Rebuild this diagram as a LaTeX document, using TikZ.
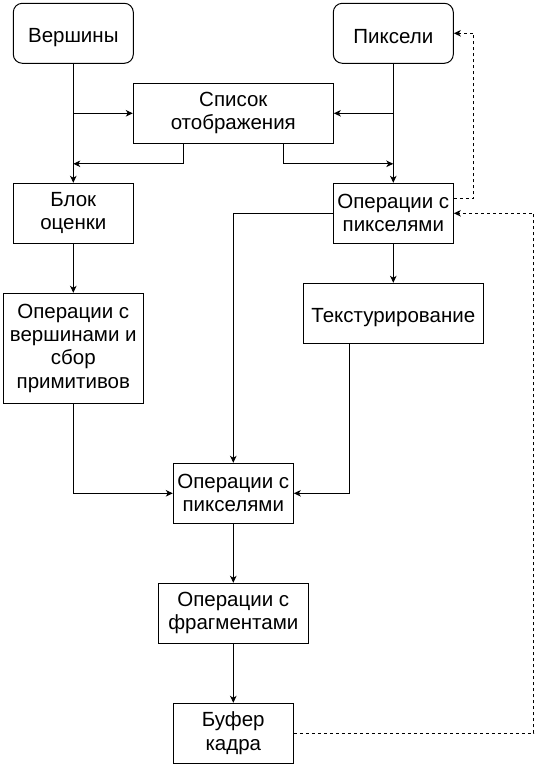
\documentclass[tikz,border=0pt]{standalone}
\usepackage{fontspec}
\setmainfont{Liberation Sans}
\usepackage{tikz}
\usetikzlibrary{arrows.meta}
\usetikzlibrary{calc}
\newcommand\st{\rule[-1.5pt]{0pt}{23.3pt}}
\tikzset{
  >={Stealth[length=7pt,width=6.5pt,inset=2pt]},
  blk/.style={draw=black, line width=1pt, inner sep=0pt, align=center,
    font=\fontsize{20.5}{23.3}\selectfont,
    execute at begin node=\st, execute at end node=\st},
  rblk/.style={blk, rounded corners=9pt},
  conn/.style={line width=1pt, ->},
  fb/.style={conn, dash pattern=on 3pt off 3pt}
}

\begin{document}
\begin{tikzpicture}[x=1pt,y=-1pt]
\useasboundingbox (0,0) rectangle (545,767);

\node[rblk, minimum width=120pt, minimum height=60pt] (vert) at (73.3,33.3) {Вершины};
\node[rblk, minimum width=120pt, minimum height=60pt] (piks) at (393.3,33.3) {Пиксели};
\node[blk, minimum width=200pt, minimum height=60pt] (spis) at (233.3,113.3) {Список\\отображения};
\node[blk, minimum width=120pt, minimum height=60pt] (blok) at (73.3,213.3) {Блок\\оценки};
\node[blk, minimum width=120pt, minimum height=60pt] (optop) at (393.3,213.3) {Операции с\\пикселями};
\node[blk, minimum width=140pt, minimum height=110pt] (opver) at (73.3,348.3) {Операции с\\вершинами и\\сбор\\примитивов};
\node[blk, minimum width=180pt, minimum height=60pt] (tex) at (393.3,313.3) {Текстурирование};
\node[blk, minimum width=120pt, minimum height=60pt] (opmid) at (233.3,493.3) {Операции с\\пикселями};
\node[blk, minimum width=150pt, minimum height=60pt] (frag) at (233.3,613.3) {Операции с\\фрагментами};
\node[blk, minimum width=120pt, minimum height=60pt] (buf) at (233.3,733.3) {Буфер\\кадра};

% left column
\draw[conn] (vert) -- (blok);
\draw[conn] (spis.west -| vert) -- (spis.west);
\draw[conn] ([xshift=-50pt]spis.south) -- ++(0,20) -- ($(spis.south -| vert)+(0,20)$);
\draw[conn] (blok) -- (opver);
\draw[conn] (opver) |- (opmid.west);

% right column
\draw[conn] (piks) -- (optop);
\draw[conn] (spis.east -| piks) -- (spis.east);
\draw[conn] ([xshift=50pt]spis.south) -- ++(0,20) -- ($(spis.south -| piks)+(0,20)$);
\draw[conn] (optop) -- (tex);
\draw[conn] (optop.west) -| (opmid);
\draw[conn] ([xshift=-44pt]tex.south) |- (opmid.east);

% bottom chain
\draw[conn] (opmid) -- (frag);
\draw[conn] (frag) -- (buf);

% feedback
\draw[fb] ([yshift=15pt]optop.east) -- ++(20,0) |- (piks.east);
\draw[fb] (buf.east) -- ++(240,0) |- (optop.east);

\end{tikzpicture}
\end{document}
